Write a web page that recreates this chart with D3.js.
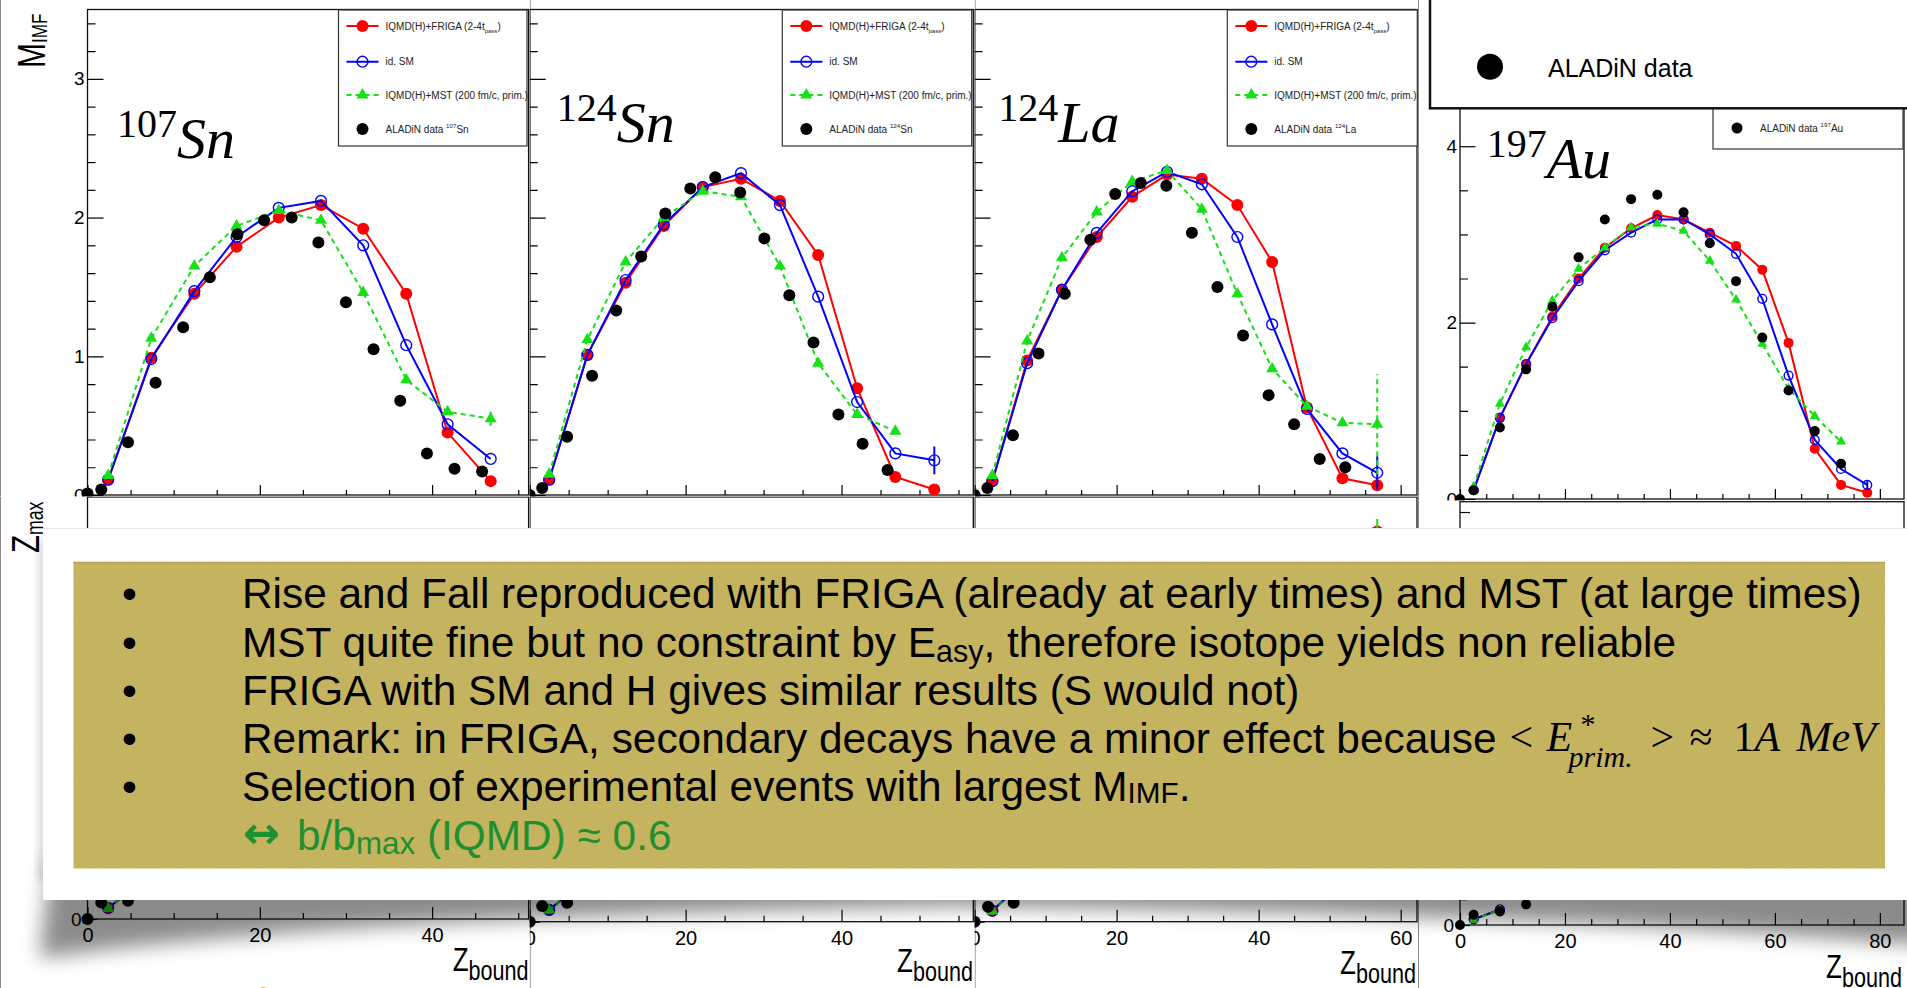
<!DOCTYPE html>
<html>
<head>
<meta charset="utf-8">
<script src="https://cdn.jsdelivr.net/npm/d3@7"></script>
<style>
  html, body { margin: 0; padding: 0; background: #fff; }
  svg { display: block; }
</style>
</head>
<body>
<div id="chart"></div>
<script>
// M_IMF vs Z_bound, upper row. Model points share one Z_bound grid per system.
const sn107ModelZb = [2.4, 7.4, 12.4, 17.3, 22.2, 27.1, 32.0, 37.0, 41.8, 46.8];
const sn107Friga = [0.11, 0.99, 1.45, 1.79, 2.00, 2.09, 1.92, 1.45, 0.45, 0.10];
const sn107SM = [0.11, 0.98, 1.47, 1.86, 2.07, 2.12, 1.80, 1.08, 0.51, 0.26];
const sn107MST = [0.14, 1.13, 1.65, 1.94, 2.05, 1.98, 1.46, 0.83, 0.60, 0.55];
const sn107DataZb = [0, 1.6, 4.7, 7.9, 11.1, 14.2, 17.4, 20.5, 23.7, 26.8, 30.0, 33.2, 36.3, 39.4, 42.6, 45.8];
const sn107Data = [0.01, 0.04, 0.38, 0.81, 1.21, 1.57, 1.88, 1.98, 2.00, 1.82, 1.39, 1.05, 0.68, 0.30, 0.19, 0.17];
const sn107MSTLastErr = 0.05;

const sn124ModelZb = [2.5, 7.4, 12.3, 17.2, 22.2, 27.1, 32.1, 37.0, 42.0, 46.9, 51.9];
const sn124Friga = [0.11, 1.01, 1.53, 1.94, 2.22, 2.28, 2.12, 1.73, 0.77, 0.13, 0.04];
const sn124SM = [0.11, 1.01, 1.55, 1.95, 2.22, 2.32, 2.09, 1.43, 0.67, 0.30, 0.25];
const sn124MST = [0.15, 1.12, 1.68, 2.00, 2.19, 2.15, 1.65, 0.95, 0.58, 0.46];
const sn124DataZb = [0, 1.6, 4.8, 8.0, 11.1, 14.3, 17.4, 20.6, 23.8, 27.0, 30.1, 33.3, 36.4, 39.6, 42.7, 45.9];
const sn124Data = [0.0, 0.05, 0.42, 0.86, 1.33, 1.72, 2.03, 2.21, 2.29, 2.18, 1.85, 1.44, 1.10, 0.58, 0.37, 0.18];
const sn124SMLastErr = 0.10;

const la124ModelZb = [2.5, 7.4, 12.3, 17.2, 22.2, 27.1, 32.0, 37.0, 41.9, 46.8, 51.8, 56.7];
const la124Friga = [0.10, 0.97, 1.48, 1.86, 2.15, 2.31, 2.28, 2.09, 1.68, 0.63, 0.12, 0.07];
const la124SM = [0.10, 0.95, 1.48, 1.89, 2.19, 2.33, 2.24, 1.86, 1.23, 0.62, 0.30, 0.16];
const la124MST = [0.14, 1.11, 1.71, 2.04, 2.26, 2.34, 2.06, 1.45, 0.91, 0.64, 0.52, 0.51];
const la124DataZb = [0, 1.8, 5.4, 9.0, 12.7, 16.3, 19.8, 23.4, 27.0, 30.6, 34.2, 37.8, 41.4, 45.0, 48.6, 52.2];
const la124Data = [0, 0.05, 0.43, 1.02, 1.45, 1.84, 2.17, 2.25, 2.23, 1.89, 1.50, 1.15, 0.72, 0.51, 0.26, 0.20];
const la124SMLastErr = 0.12;
const la124MSTLastErr = 0.36;

const au197ModelZb = [2.6, 7.6, 12.6, 17.6, 22.6, 27.6, 32.6, 37.6, 42.6, 47.6, 52.6, 57.6, 62.6, 67.6, 72.6, 77.6];
const au197Friga = [0.10, 0.92, 1.53, 2.07, 2.50, 2.85, 3.07, 3.22, 3.17, 3.02, 2.87, 2.60, 1.77, 0.57, 0.16, 0.07];
const au197SM = [0.10, 0.92, 1.53, 2.05, 2.47, 2.82, 3.02, 3.17, 3.17, 3.00, 2.78, 2.27, 1.40, 0.67, 0.34, 0.16];
const au197MST = [0.14, 1.08, 1.72, 2.25, 2.61, 2.85, 3.08, 3.12, 3.04, 2.70, 2.26, 1.76, 1.25, 0.94, 0.65];
const au197DataZb = [0, 2.6, 7.6, 12.6, 17.6, 22.6, 27.6, 32.6, 37.6, 42.6, 47.6, 52.6, 57.6, 62.6, 67.6, 72.6];
const au197Data = [0, 0.10, 0.81, 1.47, 2.18, 2.74, 3.17, 3.40, 3.45, 3.25, 2.90, 2.47, 1.83, 1.23, 0.77, 0.40];
const au197SMLastErr = 0.04;

// Z_max vs Z_bound, lower row: only the points not hidden by the overlay
const lowSn107ModelZb = [2.4, 7.4];
const lowSn107Friga = [1.4, 5.7];
const lowSn107SM = [1.4, 5.7];
const lowSn107MST = [1.35, 5.8];
const lowSn107DataZb = [0, 1.6, 4.7];
const lowSn107Data = [0, 2.1, 2.35];

const lowSn124ModelZb = [2.5, 7.4];
const lowSn124Friga = [1.5, 5.6];
const lowSn124SM = [1.5, 5.6];
const lowSn124MST = [1.5, 5.7];
const lowSn124DataZb = [0, 1.6, 4.8];
const lowSn124Data = [0, 2.0, 2.4];

const lowLa124ModelZb = [2.5, 7.4];
const lowLa124Friga = [1.4, 5.5];
const lowLa124SM = [1.4, 5.5];
const lowLa124MST = [1.35, 5.6];
const lowLa124DataZb = [0, 1.9, 5.5];
const lowLa124Data = [0, 1.9, 2.4];
const lowLa124EndZb = [56.7];
const lowLa124EndFriga = [49.6];
const lowLa124EndMSTErr = 1.6;

const lowAu197ModelZb = [2.6, 7.6];
const lowAu197Friga = [1.1, 3.0];
const lowAu197SM = [1.1, 3.0];
const lowAu197MST = [1.0, 3.0];
const lowAu197DataZb = [0, 2.6, 7.6, 12.6];
const lowAu197Data = [0, 2.0, 2.6, 4.0];

const SANS = '"Liberation Sans", Arial, Helvetica, sans-serif';
const SERIF = '"Liberation Serif", "Times New Roman", serif';
const RED = "#ff0000", BLUE = "#0000ff", GREEN = "#16e016", BLACK = "#000000";

const W = 1907, H = 988;
const svg = d3.select("#chart").append("svg").attr("width", W).attr("height", H);
const defs = svg.append("defs");
svg.append("rect").attr("width", W).attr("height", H).attr("fill", "#fff");

const RICH = {
  sub: { k: 0.6, d: 0.32 },
  sup: { k: 0.62, d: -0.42 },
  small: { k: 0.7, d: 0.05 },
  slideSub: { k: 0.72, d: 0.13 },
  greenSub: { k: 0.74, d: 0.1 },
  zsub: { k: 0.83, d: 0.27 },
  msub: { k: 0.6, d: 0.1 },
  imf: { k: 0.57, d: 0.06 }
};

// pieces: plain strings or [string, kind]
function rich(text, pieces, fs) {
  let shift = 0;
  pieces.forEach(p => {
    const [s, kind] = Array.isArray(p) ? p : [p, null];
    const cfg = kind ? RICH[kind] : { k: 1, d: 0 };
    const target = cfg.d * fs;
    text.append("tspan").attr("font-size", fs * cfg.k).attr("dy", target - shift).text(s);
    shift = target;
  });
  return text;
}

function marker(g, kind, cx, cy, r) {
  if (kind === "mst") {
    g.append("path")
      .attr("d", d3.symbol(d3.symbolTriangle, r * r * 1.75)())
      .attr("transform", `translate(${cx},${cy})`)
      .attr("fill", GREEN);
  } else if (kind === "sm") {
    g.append("circle").attr("cx", cx).attr("cy", cy).attr("r", r - 0.6)
      .attr("fill", "none").attr("stroke", BLUE).attr("stroke-width", 1.4);
  } else {
    g.append("circle").attr("cx", cx).attr("cy", cy).attr("r", r)
      .attr("fill", kind === "friga" ? RED : BLACK);
  }
}

const LINE = { friga: [RED, null], sm: [BLUE, null], mst: [GREEN, "5,4"] };

function series(g, x, y, zb, vals, kind, r) {
  if (kind !== "data" && vals.length > 1) {
    g.append("path")
      .datum(vals)
      .attr("d", d3.line().x((d, i) => x(zb[i])).y(d => y(d)))
      .attr("fill", "none")
      .attr("stroke", LINE[kind][0])
      .attr("stroke-width", 2)
      .attr("stroke-dasharray", LINE[kind][1]);
  }
  vals.forEach((v, i) => marker(g, kind, x(zb[i]), y(v), r));
}

function errBar(g, x, y, zb, vals, kind, err) {
  const i = vals.length - 1;
  g.append("line")
    .attr("x1", x(zb[i])).attr("x2", x(zb[i]))
    .attr("y1", y(vals[i] - err)).attr("y2", y(vals[i] + err))
    .attr("stroke", LINE[kind][0]).attr("stroke-width", 2)
    .attr("stroke-dasharray", LINE[kind][1]);
}

function tickAxis(g, axisFn, scale, values, len, labels, fs, pad, transform) {
  const ax = axisFn(scale).tickValues(values).tickSize(-len).tickPadding(pad)
    .tickFormat(d => (labels && labels.some(l => Math.abs(l - d) < 1e-6)) ? d3.format("d")(d) : "");
  const a = g.append("g").attr("transform", transform).call(ax);
  a.select(".domain").remove();
  a.selectAll(".tick line").attr("stroke", "#000").attr("stroke-width", 1.2);
  a.selectAll(".tick text").attr("font-size", fs).attr("font-family", SANS).attr("fill", "#000");
}

function steps(max, step, skip) {
  return d3.range(0, max + 1e-9, step)
    .map(v => Math.round(v * 1000) / 1000)
    .filter(v => !skip || Math.abs(v / skip - Math.round(v / skip)) > 1e-6);
}

function frame(c, g) {
  const x = d3.scaleLinear().domain([0, c.xMax]).range([c.x0, c.x1]);
  const y = d3.scaleLinear().domain([0, c.yMax]).range([c.y0, c.y1]);
  g.append("rect").attr("x", c.x0).attr("y", c.y1)
    .attr("width", c.x1 - c.x0).attr("height", c.y0 - c.y1)
    .attr("fill", "none").attr("stroke", "#111").attr("stroke-width", 1.3);
  // x axis, ticks pointing into the frame
  tickAxis(g, d3.axisBottom, x, steps(c.xMax, 20), c.xLen[0], c.xLab, 20, c.xPad, `translate(0,${c.y0})`);
  tickAxis(g, d3.axisBottom, x, steps(c.xMax, 5, 20), c.xLen[1], null, 20, 0, `translate(0,${c.y0})`);
  // y axis
  tickAxis(g, d3.axisLeft, y, steps(c.yMax, c.yMajor), c.yLen[0], c.yLab, 19, c.yPad, `translate(${c.x0},0)`);
  tickAxis(g, d3.axisLeft, y, steps(c.yMax, c.yMinor, c.yMajor), c.yLen[1], null, 19, 0, `translate(${c.x0},0)`);
  return { x, y };
}

function pad(c) {
  const id = "clip-" + c.id;
  defs.append("clipPath").attr("id", id).append("rect")
    .attr("x", c.pad[0]).attr("y", c.pad[1])
    .attr("width", c.pad[2] - c.pad[0]).attr("height", c.pad[3] - c.pad[1]);
  const g = svg.append("g").attr("clip-path", `url(#${id})`);
  g.append("rect").attr("x", c.pad[0]).attr("y", c.pad[1])
    .attr("width", c.pad[2] - c.pad[0]).attr("height", c.pad[3] - c.pad[1]).attr("fill", "#fff");
  // pad border, a faint grey line at the pad edge
  g.append("line").attr("x1", c.pad[0] + 0.5).attr("x2", c.pad[0] + 0.5).attr("y1", c.pad[1]).attr("y2", c.pad[3])
    .attr("stroke", "#8a8a8a").attr("stroke-width", 1);
  const { x, y } = frame(c, g);
  if (c.friga) series(g, x, y, c.zb, c.friga, "friga", c.r);
  if (c.sm) series(g, x, y, c.zb, c.sm, "sm", c.r);
  if (c.mst) series(g, x, y, c.zb, c.mst, "mst", c.r);
  (c.errs || []).forEach(([kind, vals, err]) => errBar(g, x, y, c.zb, vals, kind, err));
  series(g, x, y, c.dataZb, c.data, "data", c.r);
  return { g, x, y };
}

const legRows = [16, 51.7, 85, 119];
function legend(g, box, iso, full) {
  g.append("rect").attr("x", box[0]).attr("y", box[1]).attr("width", box[2]).attr("height", box[3])
    .attr("fill", "#fff").attr("stroke", "#333").attr("stroke-width", 1.2);
  const rows = full ? [
    ["friga", ["IQMD(H)+FRIGA (2-4t", ["pass", "sub"], ")"]],
    ["sm", ["id. SM"]],
    ["mst", ["IQMD(H)+MST (200 fm/c, prim.)"]],
    ["data", ["ALADiN data ", [iso[0], "sup"], iso[1]]]
  ] : [["data", ["ALADiN data ", [iso[0], "sup"], iso[1]]]];
  rows.forEach(([kind, pieces], i) => {
    const cy = box[1] + (full ? legRows[i] : box[3] / 2 + 3.5);
    if (kind !== "data") {
      g.append("line").attr("x1", box[0] + 8).attr("x2", box[0] + 40).attr("y1", cy).attr("y2", cy)
        .attr("stroke", LINE[kind][0]).attr("stroke-width", 2).attr("stroke-dasharray", LINE[kind][1]);
    }
    marker(g, kind, box[0] + 24, cy, full ? 6 : 5.5);
    rich(g.append("text").attr("x", box[0] + 47).attr("y", cy + 3.5)
      .attr("font-family", SANS).attr("fill", "#222"), pieces, 10);
  });
}

function isoLabel(g, x, y, iso) {
  const t = g.append("text").attr("x", x).attr("y", y).attr("font-family", SERIF).attr("fill", "#000");
  t.append("tspan").attr("font-size", 40).text(iso[0]);
  t.append("tspan").attr("font-size", 58).attr("font-style", "italic").attr("dy", 21.5).text(iso[1]);
}

// ---------- upper row: M_IMF ----------
const upperPanels = [
  { id: "u1", pad: [0, 0, 529.7, 496.5], x0: 87.5, x1: 528.6, y0: 495, y1: 9.5, xMax: 51.2, yMax: 3.5,
    yMajor: 1, yMinor: 0.2, yLab: [0, 1, 2, 3], r: 6,
    zb: sn107ModelZb, friga: sn107Friga, sm: sn107SM, mst: sn107MST, dataZb: sn107DataZb, data: sn107Data,
    errs: [["mst", sn107MST, sn107MSTLastErr]],
    iso: ["107", "Sn"], isoPos: [117, 136.7], leg: [338.5, 10, 188.5, 136], full: true },
  { id: "u2", pad: [529.7, 0, 974.6, 496.5], x0: 529.7, x1: 973.3, y0: 495, y1: 9.5, xMax: 56.9, yMax: 3.5,
    yMajor: 1, yMinor: 0.2, yLab: null, r: 6,
    zb: sn124ModelZb, friga: sn124Friga, sm: sn124SM, mst: sn124MST, dataZb: sn124DataZb, data: sn124Data,
    errs: [["sm", sn124SM, sn124SMLastErr]],
    iso: ["124", "Sn"], isoPos: [556.7, 120.7], leg: [782.3, 10, 189.4, 136], full: true },
  { id: "u3", pad: [974.6, 0, 1418, 496.5], x0: 974.6, x1: 1417, y0: 495, y1: 9.5, xMax: 62.3, yMax: 3.5,
    yMajor: 1, yMinor: 0.2, yLab: null, r: 6,
    zb: la124ModelZb, friga: la124Friga, sm: la124SM, mst: la124MST, dataZb: la124DataZb, data: la124Data,
    errs: [["sm", la124SM, la124SMLastErr], ["mst", la124MST, la124MSTLastErr]],
    iso: ["124", "La"], isoPos: [998.3, 120.7], leg: [1227.3, 10, 190, 136], full: true },
  { id: "u4", pad: [1418, 0, 1907, 500.5], x0: 1460, x1: 1904, y0: 499, y1: 108.3, xMax: 84.6, yMax: 4.43,
    yMajor: 2, yMinor: 0.5, yLab: [0, 2, 4], r: 5,
    zb: au197ModelZb, friga: au197Friga, sm: au197SM, mst: au197MST, dataZb: au197DataZb, data: au197Data,
    errs: [["sm", au197SM, au197SMLastErr]],
    iso: ["197", "Au"], isoPos: [1486.7, 156.7], leg: [1713, 100, 190, 49], full: false }
];

upperPanels.forEach(c => {
  c.xLen = [10, 5]; c.xLab = null; c.xPad = 0;
  c.yLen = c.id === "u4" ? [15.5, 8] : [16, 8]; c.yPad = 3;
  const { g } = pad(c);
  isoLabel(g, c.isoPos[0], c.isoPos[1], c.iso);
  legend(g, c.leg, c.iso, c.full);
});

// ---------- lower row: Z_max ----------
const lowerPanels = [
  { id: "l1", pad: [0, 496.5, 529.7, 988], x0: 87.5, x1: 528.6, y0: 919, y1: 497, xMax: 51.2, yMax: 54,
    xLab: [0, 20, 40], yLab: [0], r: 6,
    zb: lowSn107ModelZb, friga: lowSn107Friga, sm: lowSn107SM, mst: lowSn107MST, dataZb: lowSn107DataZb, data: lowSn107Data },
  { id: "l2", pad: [529.7, 496.5, 974.6, 988], x0: 529.7, x1: 973.3, y0: 921.7, y1: 497, xMax: 56.9, yMax: 54,
    xLab: [0, 20, 40], yLab: [0], r: 6,
    zb: lowSn124ModelZb, friga: lowSn124Friga, sm: lowSn124SM, mst: lowSn124MST, dataZb: lowSn124DataZb, data: lowSn124Data },
  { id: "l3", pad: [974.6, 496.5, 1418, 988], x0: 974.6, x1: 1417, y0: 921.7, y1: 497, xMax: 62.3, yMax: 54,
    xLab: [0, 20, 40, 60], yLab: [0], r: 6,
    zb: lowLa124ModelZb, friga: lowLa124Friga, sm: lowLa124SM, mst: lowLa124MST, dataZb: lowLa124DataZb, data: lowLa124Data },
  { id: "l4", pad: [1418, 500.5, 1907, 988], x0: 1460, x1: 1904, y0: 925, y1: 501.7, xMax: 84.6, yMax: 82,
    xLab: [0, 20, 40, 60, 80], yLab: [0], r: 5,
    zb: lowAu197ModelZb, friga: lowAu197Friga, sm: lowAu197SM, mst: lowAu197MST, dataZb: lowAu197DataZb, data: lowAu197Data }
];

lowerPanels.forEach(c => {
  c.xLen = [12, 6]; c.xPad = 9;
  c.yMajor = 20; c.yMinor = 5; c.yLen = [10, 7]; c.yPad = 6;
  const { g, x, y } = pad(c);
  if (c.id === "l3") {
    marker(g, "friga", x(lowLa124EndZb[0]), y(lowLa124EndFriga[0]), 6);
    g.append("line")
      .attr("x1", x(lowLa124EndZb[0])).attr("x2", x(lowLa124EndZb[0]))
      .attr("y1", y(lowLa124EndFriga[0])).attr("y2", y(lowLa124EndFriga[0] + lowLa124EndMSTErr))
      .attr("stroke", GREEN).attr("stroke-width", 2);
  }
});

// ---------- axis titles ----------
function title(x, y, rot, pieces, fs) {
  const t = svg.append("text")
    .attr("transform", `translate(${x},${y}) rotate(${rot}) scale(1,1.3)`)
    .attr("font-family", SANS).attr("fill", "#000");
  rich(t, pieces, fs);
  return t;
}
title(45, 68, -90, ["M", ["IMF", "imf"]], 30);
title(39, 553, -90, ["Z", ["max", "msub"]], 29.5);
[[528.6, 971], [973, 972.3], [1416, 973.5], [1902, 978]].forEach(([xr, yb]) => {
  title(xr, yb, 0, ["Z", ["bound", "zsub"]], 26).attr("text-anchor", "end");
});

// ---------- big legend in the top-right corner ----------
svg.append("rect").attr("x", 1430).attr("y", -10).attr("width", 490).attr("height", 118.3)
  .attr("fill", "#fff").attr("stroke", "#111").attr("stroke-width", 2.5);
svg.append("circle").attr("cx", 1490).attr("cy", 66.7).attr("r", 13).attr("fill", BLACK);
svg.append("text").attr("x", 1548).attr("y", 77).attr("font-family", SANS).attr("font-size", 25)
  .attr("fill", "#000").text("ALADiN data");

// ---------- overlay: shadow, white card, gold text box ----------
defs.append("filter").attr("id", "soft").attr("x", "-10%").attr("y", "-20%").attr("width", "120%").attr("height", "150%")
  .append("feGaussianBlur").attr("stdDeviation", 10);
defs.append("filter").attr("id", "softer").attr("x", "-50%").attr("y", "-5%").attr("width", "200%").attr("height", "110%")
  .append("feGaussianBlur").attr("stdDeviation", 4);
// curled-page shadow: deep at both bottom corners, thin in the middle
svg.append("path")
  .attr("d", "M50,860 L40,958 Q320,918 950,906 Q1550,914 1925,945 L1925,860 Z")
  .attr("fill", "#000").attr("opacity", 0.45).attr("filter", "url(#soft)");
svg.append("rect").attr("x", 38).attr("y", 540).attr("width", 10).attr("height", 340)
  .attr("fill", "#000").attr("opacity", 0.14).attr("filter", "url(#softer)");
svg.append("rect").attr("x", 43).attr("y", 528).attr("width", W - 43).attr("height", 372).attr("fill", "#fff");
svg.append("line").attr("x1", 43).attr("x2", W).attr("y1", 528.5).attr("y2", 528.5).attr("stroke", "#e6e6e6");

const noise = defs.append("filter").attr("id", "paper");
noise.append("feTurbulence").attr("type", "fractalNoise").attr("baseFrequency", 0.9).attr("numOctaves", 2).attr("seed", 3);
noise.append("feColorMatrix").attr("values", "0 0 0 0 0.45  0 0 0 0 0.40  0 0 0 0 0.15  0 0 0 0.18 0");
noise.append("feComposite").attr("in2", "SourceGraphic").attr("operator", "in");
svg.append("rect").attr("x", 73.5).attr("y", 562).attr("width", 1811.5).attr("height", 306.5).attr("fill", "#c6b45e");
svg.append("rect").attr("x", 73.5).attr("y", 562).attr("width", 1811.5).attr("height", 306.5).attr("fill", "#c6b45e")
  .attr("filter", "url(#paper)");
svg.append("line").attr("x1", 73.5).attr("x2", 1885).attr("y1", 562.5).attr("y2", 562.5).attr("stroke", "#b3a14e").attr("stroke-width", 1.5);

const slideLines = [
  ["Rise and Fall reproduced with FRIGA (already at early times) and MST (at large times)"],
  ["MST quite fine but no constraint by E", ["asy", "slideSub"], ", therefore isotope yields non reliable"],
  ["FRIGA with SM and H gives similar results (S would not)"],
  ["Remark: in FRIGA, secondary decays have a minor effect because"],
  ["Selection of experimental events with largest M", ["IMF", "small"], "."]
];
const slideBase = [608.3, 656.7, 705, 752.7, 800.7];

// size the slide font so the first line spans the same width as in the slide
const probe = svg.append("text").attr("font-family", SANS).attr("font-size", 38).text(slideLines[0][0]);
const fs = 38 * 1620 / probe.node().getComputedTextLength();
probe.remove();

let line4End = 0;
slideLines.forEach((pieces, i) => {
  svg.append("text").attr("x", 122).attr("y", slideBase[i]).attr("font-family", SANS)
    .attr("font-size", fs).attr("fill", "#000").text("•");
  const t = rich(svg.append("text").attr("x", 242).attr("y", slideBase[i]).attr("font-family", SANS)
    .attr("fill", "#000"), pieces, fs);
  if (i === 3) line4End = 242 + t.node().getComputedTextLength();
});

// < E*_prim. > ≈ 1A MeV
const m0 = Math.max(line4End + 13, 1490);
const mathY = 750.7;
const mt = svg.append("text").attr("font-family", SERIF).attr("fill", "#000").attr("font-size", 42);
mt.append("tspan").attr("x", m0).attr("y", mathY).text("<");
mt.append("tspan").attr("x", m0 + 37).attr("y", mathY).attr("font-style", "italic").text("E");
mt.append("tspan").attr("x", m0 + 71).attr("y", mathY - 17).attr("font-size", 30).text("*");
mt.append("tspan").attr("x", m0 + 59).attr("y", mathY + 16).attr("font-size", 30).attr("font-style", "italic").text("prim.");
mt.append("tspan").attr("x", m0 + 141).attr("y", mathY).text(">");
mt.append("tspan").attr("x", m0 + 180).attr("y", mathY).text("≈");
mt.append("tspan").attr("x", m0 + 224).attr("y", mathY).text("1");
mt.append("tspan").attr("font-style", "italic").text("A");
mt.append("tspan").attr("x", m0 + 287).attr("y", mathY).attr("font-style", "italic").text("MeV");

const GREEN_TXT = "#1f8f30";
svg.append("text").attr("x", 243).attr("y", 848).attr("font-family", '"DejaVu Sans", sans-serif')
  .attr("font-weight", "bold").attr("font-size", 44).attr("fill", GREEN_TXT).text("↔");
rich(svg.append("text").attr("x", 297).attr("y", 850).attr("font-family", SANS).attr("fill", GREEN_TXT),
  ["b/b", ["max", "greenSub"], " (IQMD) ≈ 0.6"], fs);

// logo fragment peeking in at the bottom edge
svg.append("circle").attr("cx", 263).attr("cy", 993).attr("r", 6).attr("fill", "#f2b24f");
</script>
</body>
</html>
